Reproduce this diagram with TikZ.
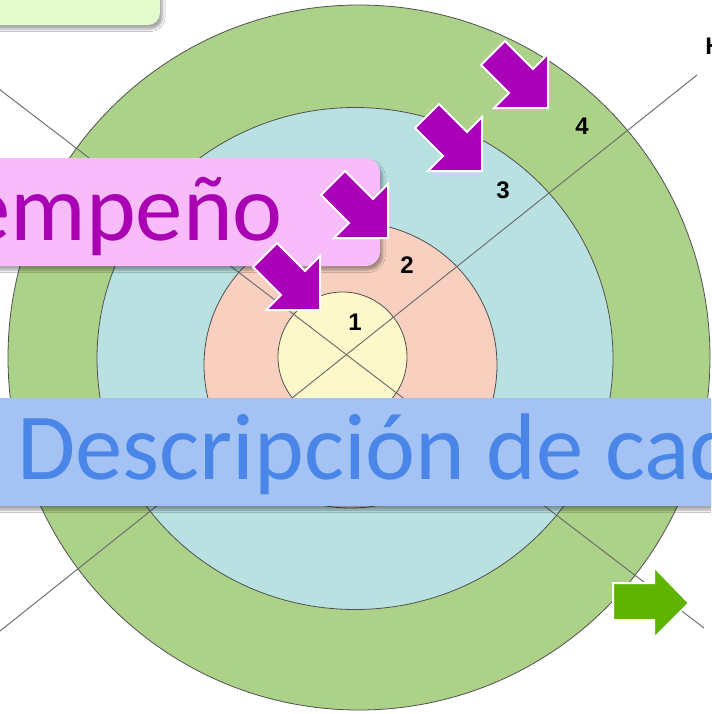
\documentclass[tikz,border=0pt]{standalone}
\usepackage{fontspec}
\setmainfont{Carlito}
\newfontfamily\numfont{Liberation Sans}
\usetikzlibrary{shadows.blur}
\definecolor{ringgreen}{RGB}{172,210,138}
\definecolor{ringblue}{RGB}{185,225,226}
\definecolor{ringpink}{RGB}{249,208,192}
\definecolor{ringyellow}{RGB}{253,248,202}
\definecolor{boxpink}{RGB}{248,188,250}
\definecolor{txtpurple}{RGB}{168,0,178}
\definecolor{arrpurple}{RGB}{170,0,185}
\definecolor{bannerblue}{RGB}{164,194,243}
\definecolor{txtblue}{RGB}{74,134,232}
\definecolor{arrgreen}{RGB}{94,180,0}
\definecolor{boxgreen}{RGB}{227,251,204}
\definecolor{ringline}{RGB}{80,80,80}
\begin{document}
\begin{tikzpicture}[x=0.75pt,y=-0.75pt,
  ring/.style={draw=ringline,line width=0.6pt},
  axisline/.style={draw=ringline!85,line width=0.7pt},
  numlbl/.style={font=\numfont\bfseries\fontsize{18pt}{20pt}\selectfont,inner sep=0pt},
  bigtext/.style={font=\fontsize{71pt}{80pt}\selectfont,inner sep=0pt},
  softshadow/.style={blur shadow={shadow xshift=2pt,shadow yshift=-3pt,shadow opacity=35,shadow blur steps=6}},
  parrow/.pic={\fill[arrpurple,draw=white,line width=1.5pt,line join=miter]
     (0,0) -- (0,-54) -- (-15,-39) -- (-43,-67) -- (-67,-43) -- (-39,-15) -- (-54,0) -- cycle;}
]
\useasboundingbox (0,0) rectangle (711,714);
\clip (0,0) rectangle (711,714);
\fill[white] (0,0) rectangle (711,714);

% top-left box
\fill[boxgreen,rounded corners=9pt,softshadow] (-20,-30) rectangle (160,25);

% rings
\path[ring,fill=ringgreen] (359,357.5) ellipse [x radius=351,y radius=352.5];
\path[ring,fill=ringblue] (355,358.5) ellipse [x radius=258,y radius=251];
\path[ring,fill=ringpink] (350.5,365) ellipse [x radius=146.5,y radius=143];
\path[ring,fill=ringyellow] (342.5,357) ellipse [x radius=64.5,y radius=65];

% axis lines
\coordinate (la1) at (-5,86);
\coordinate (la2) at (704,628);
\coordinate (lb1) at (697,75);
\coordinate (lb2) at (-5,635);
\draw[axisline] (la1) -- (la2);
\draw[axisline] (lb1) -- (lb2);

% numbers
\node[numlbl] (n1) at (355,322) {1};
\node[numlbl] (n2) at (407,265) {2};
\node[numlbl] (n3) at (503,190) {3};
\node[numlbl] (n4) at (582,126) {4};
\node[numlbl,anchor=west] (h) at (705,46) {H};

% pink box
\fill[boxpink,rounded corners=11pt,softshadow] (-30,158) rectangle (380,266);
\node[bigtext,text=txtpurple,anchor=base east] (t1) at (283,240) {empeño};

% purple arrows
\pic (a1) at (320,310) {parrow};
\pic (a2) at (388,238) {parrow};
\pic (a3) at (482,171) {parrow};
\pic (a4) at (548,108) {parrow};

% blue banner
\fill[bannerblue,softshadow] (-10,398) rectangle (730,506);
\node[bigtext,text=txtblue,anchor=base west] (t2) at (17,479) {Descripción de cad};

% green arrow
\fill[arrgreen,draw=white,line width=1.5pt,line join=miter]
  (613,583) -- (654,583) -- (654,567) -- (689,603) -- (654,638) -- (654,620) -- (613,620) -- cycle;
\end{tikzpicture}
\end{document}
